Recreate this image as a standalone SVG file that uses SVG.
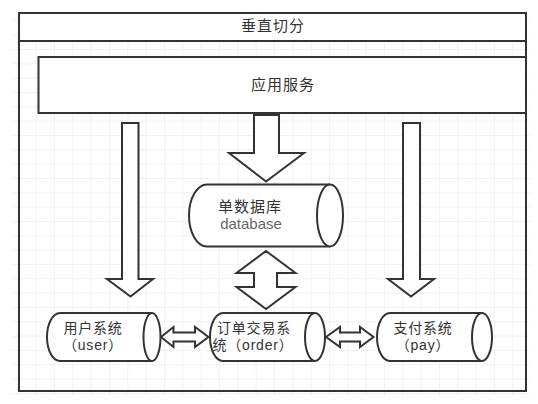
<svg xmlns="http://www.w3.org/2000/svg" width="538" height="404" viewBox="0 0 538 404">
<defs>
<pattern id="grid" x="0" y="7" width="18.33" height="14.33" patternUnits="userSpaceOnUse">
<path d="M18.33 0 V14.33 M0 14.33 H18.33" fill="none" stroke="#e6e6e6" stroke-width="1"/>
</pattern>
<style>
.s{fill:#fff;stroke:#333;stroke-width:2}
.t{font-family:"Liberation Sans","Noto Sans CJK SC",sans-serif;font-size:15px;fill:#333;text-anchor:middle}
.n{font-size:14px;letter-spacing:0.8px}
.g{fill:#666}
</style>
</defs>
<rect x="0" y="0" width="538" height="404" fill="#fff"/>
<rect x="12" y="12" width="518" height="384" fill="url(#grid)"/>
<g id="container">
<rect class="s" x="19" y="13" width="507" height="378" style="fill:none"/>
<rect class="s" x="19" y="13" width="507" height="28"/>
<text class="t" x="273" y="31" letter-spacing="1">垂直切分</text>
</g>
<g id="app">
<rect class="s" x="38.5" y="57" width="487.5" height="56"/>
<text class="t" x="283" y="90" letter-spacing="1">应用服务</text>
</g>
<g id="connectors">
<path class="s" d="M122 123 H138.5 V279 H153 L130.5 296.5 L107 279 H122 Z"/>
<path class="s" d="M403 123 H420 V279 H434 L411 296.5 L388 279 H403 Z"/>
<path class="s" d="M254 115 H279 V153 H304 L266 181.5 L229 153 H254 Z"/>
<path class="s" d="M266 251 L295.5 273 H277 V287 H295.5 L266 309 L236.5 287 H254 V273 H236.5 Z"/>
<path class="s" d="M161 337 L173.5 327 V332.5 H195 V327 L208.5 337 L195 347 V341.5 H173.5 V347 Z"/>
<path class="s" d="M326 337 L340 327 V332.5 H360 V327 L373.5 337 L360 347 V341.5 H340 V347 Z"/>
</g>
<g id="db">
<path class="s" d="M330 184.5 H207 A18 31 0 0 0 207 246.5 H330"/>
<ellipse class="s" cx="330" cy="215.5" rx="13" ry="31"/>
<text class="t" x="250" y="212" letter-spacing="1">单数据库</text>
<text class="t g" x="251" y="229">database</text>
</g>
<g id="user">
<path class="s" d="M152 313 H60 A13 24 0 0 0 60 361 H152"/>
<ellipse class="s" cx="152" cy="337" rx="8.5" ry="24"/>
<text class="t n" x="93" y="333">用户系统</text>
<text class="t n" x="93" y="350">（user）</text>
</g>
<g id="order">
<path class="s" d="M315 313 H223 A13 24 0 0 0 223 361 H315"/>
<ellipse class="s" cx="315" cy="337" rx="10" ry="24"/>
<text class="t n" x="254" y="333">订单交易系</text>
<text class="t n" x="253" y="350">统（order）</text>
</g>
<g id="pay">
<path class="s" d="M482 313 H390 A13 24 0 0 0 390 361 H482"/>
<ellipse class="s" cx="482" cy="337" rx="10" ry="24"/>
<text class="t n" x="423" y="333">支付系统</text>
<text class="t n" x="423" y="350">（pay）</text>
</g>
</svg>
